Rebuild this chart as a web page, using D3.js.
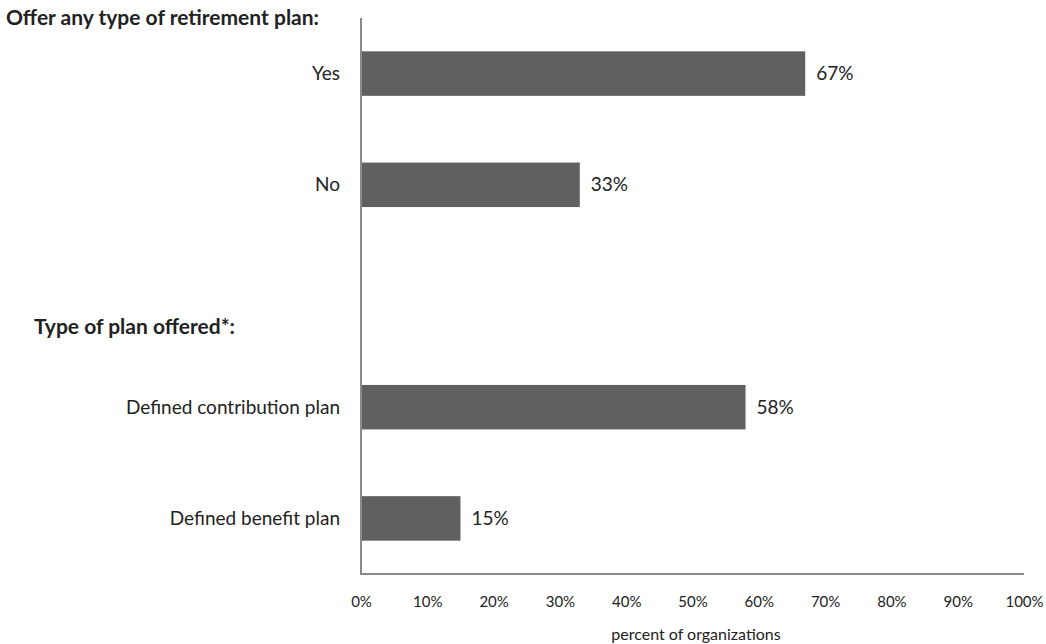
<!DOCTYPE html>
<html>
<head>
<meta charset="utf-8">
<script src="https://cdn.jsdelivr.net/npm/d3@7"></script>
<style>
  body { margin: 0; background: #fff; }
  svg { display: block; font-family: Lato, "Open Sans", sans-serif; }
</style>
</head>
<body>
<svg id="chart" width="1046" height="644"></svg>
<script>
// Survey results: retirement plan offerings
const rows = ["Yes", "No", "header2", "Defined contribution plan", "Defined benefit plan"];
const categories = ["Yes", "No", "Defined contribution plan", "Defined benefit plan"];
const values = [67, 33, 58, 15];
const headers = ["Offer any type of retirement plan:", "Type of plan offered*:"];
const tickValues = [0, 10, 20, 30, 40, 50, 60, 70, 80, 90, 100];
const axisTitle = "percent of organizations";

const svg = d3.select("#chart");
const plotLeft = 361, plotRight = 1024, plotTop = 18, plotBottom = 574;

const x = d3.scaleLinear().domain([0, 100]).range([plotLeft, plotRight]);
const y = d3.scaleBand().domain(rows).range([plotTop, plotBottom])
  .paddingInner(0.6).paddingOuter(0.3);

const barColor = "#606060";
const textColor = "#222";
const data = categories.map((c, i) => ({ c, v: values[i] }));

// bars
svg.selectAll("rect.bar")
  .data(data)
  .join("rect")
  .attr("class", "bar")
  .attr("x", x(0))
  .attr("y", d => y(d.c))
  .attr("width", d => x(d.v) - x(0))
  .attr("height", y.bandwidth())
  .attr("fill", barColor);

// value labels
svg.selectAll("text.val")
  .data(data)
  .join("text")
  .attr("class", "val")
  .attr("x", d => x(d.v) + 11)
  .attr("y", d => y(d.c) + y.bandwidth() / 2)
  .attr("dy", "0.35em")
  .attr("font-size", 19)
  .attr("fill", textColor)
  .text(d => d.v + "%");

// category labels
svg.selectAll("text.cat")
  .data(categories)
  .join("text")
  .attr("class", "cat")
  .attr("x", plotLeft - 21)
  .attr("y", d => y(d) + y.bandwidth() / 2)
  .attr("dy", "0.35em")
  .attr("text-anchor", "end")
  .attr("font-size", 19)
  .attr("fill", textColor)
  .text(d => d);

// section headers
svg.append("text")
  .attr("x", 6).attr("y", 25)
  .attr("font-size", 21).attr("font-weight", "bold").attr("fill", textColor)
  .text(headers[0]);
svg.append("text")
  .attr("x", 34).attr("y", 334)
  .attr("font-size", 21).attr("font-weight", "bold").attr("fill", textColor)
  .text(headers[1]);

// axis lines
const axisColor = "#8a8a8a";
svg.append("line")
  .attr("x1", plotLeft).attr("x2", plotLeft).attr("y1", plotTop).attr("y2", plotBottom)
  .attr("stroke", axisColor).attr("stroke-width", 2);
svg.append("line")
  .attr("x1", plotLeft - 1).attr("x2", plotRight).attr("y1", plotBottom).attr("y2", plotBottom)
  .attr("stroke", axisColor).attr("stroke-width", 2);

// x tick labels
const xAxis = d3.axisBottom(x).tickValues(tickValues)
  .tickFormat(d => d + "%").tickSize(0).tickPadding(0);
const gx = svg.append("g").attr("transform", `translate(0,${plotBottom})`).call(xAxis);
gx.select(".domain").remove();
gx.selectAll("text")
  .attr("font-size", 15)
  .attr("font-family", "Lato, 'Open Sans', sans-serif")
  .attr("fill", textColor)
  .attr("dy", "0.35em")
  .attr("y", 28);

// axis title
svg.append("text")
  .attr("x", 696).attr("y", 640)
  .attr("text-anchor", "middle")
  .attr("font-size", 16).attr("fill", textColor)
  .text(axisTitle);
</script>
</body>
</html>
